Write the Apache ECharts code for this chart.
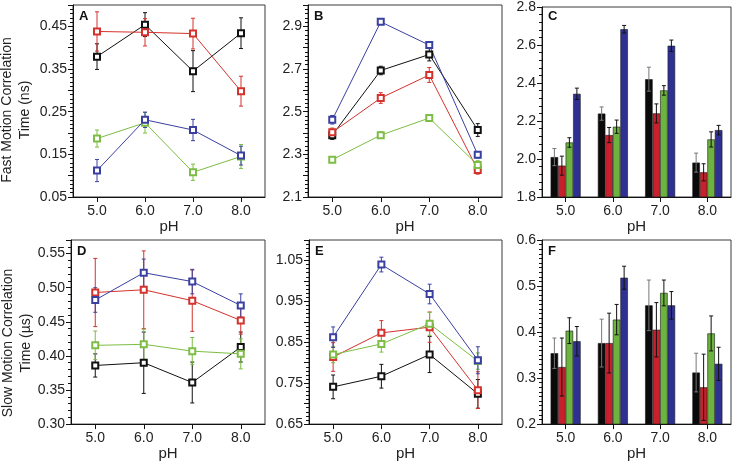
<!DOCTYPE html>
<html><head><meta charset="utf-8">
<script src="https://cdn.jsdelivr.net/npm/echarts@6/dist/echarts.min.js"></script>
<style>html,body{margin:0;padding:0;background:#fff}#c{width:738px;height:462px}</style>
</head><body><div id="c"></div>
<script>
const phLabels = ['5.0','6.0','7.0','8.0'];
const seriesNames = ['black','red','green','blue'];

// Panel A: fast motion correlation time (ns), line
const aBlack = [0.379, 0.454, 0.345, 0.434];
const aBlackErr = [0.03, 0.028, 0.048, 0.036];
const aRed = [0.438, 0.436, 0.433, 0.298];
const aRedErr = [0.046, 0.032, 0.036, 0.035];
const aGreen = [0.187, 0.224, 0.108, 0.145];
const aGreenErr = [0.02, 0.024, 0.019, 0.028];
const aBlue = [0.112, 0.231, 0.207, 0.147];
const aBlueErr = [0.026, 0.018, 0.025, 0.022];

// Panel B
const bBlack = [2.39, 2.693, 2.768, 2.414];
const bBlackErr = [0.02, 0.02, 0.03, 0.03];
const bRed = [2.403, 2.564, 2.672, 2.227];
const bRedErr = [0.02, 0.025, 0.035, 0.02];
const bGreen = [2.275, 2.39, 2.47, 2.25];
const bGreenErr = [0.01, 0.015, 0.01, 0.02];
const bBlue = [2.462, 2.921, 2.812, 2.298];
const bBlueErr = [0.02, 0.01, 0.015, 0.015];

// Panel C (bars)
const cBlack = [2.01, 2.239, 2.42, 1.981];
const cBlackErr = [0.045, 0.035, 0.063, 0.05];
const cRed = [1.965, 2.126, 2.24, 1.93];
const cRedErr = [0.05, 0.04, 0.05, 0.045];
const cGreen = [2.087, 2.17, 2.361, 2.103];
const cGreenErr = [0.025, 0.035, 0.025, 0.04];
const cBlue = [2.343, 2.683, 2.596, 2.152];
const cBlueErr = [0.03, 0.02, 0.03, 0.025];

// Panel D: slow motion correlation time (us), line
const dBlack = [0.386, 0.39, 0.361, 0.413];
const dBlackErr = [0.017, 0.045, 0.03, 0.022];
const dRed = [0.493, 0.497, 0.481, 0.452];
const dRedErr = [0.05, 0.057, 0.045, 0.02];
const dGreen = [0.4155, 0.417, 0.407, 0.403];
const dGreenErr = [0.021, 0.022, 0.02, 0.022];
const dBlue = [0.482, 0.522, 0.509, 0.474];
const dBlueErr = [0.018, 0.02, 0.018, 0.017];

// Panel E
const eBlack = [0.741, 0.767, 0.82, 0.724];
const eBlackErr = [0.029, 0.029, 0.044, 0.035];
const eRed = [0.814, 0.873, 0.887, 0.733];
const eRedErr = [0.035, 0.03, 0.037, 0.045];
const eGreen = [0.82, 0.846, 0.895, 0.804];
const eGreenErr = [0.02, 0.02, 0.028, 0.02];
const eBlue = [0.8625, 1.04, 0.968, 0.806];
const eBlueErr = [0.025, 0.018, 0.024, 0.033];

// Panel F (bars)
const fBlack = [0.354, 0.376, 0.458, 0.312];
const fBlackErr = [0.033, 0.052, 0.055, 0.042];
const fRed = [0.324, 0.376, 0.405, 0.28];
const fRedErr = [0.063, 0.065, 0.059, 0.072];
const fGreen = [0.403, 0.427, 0.485, 0.397];
const fGreenErr = [0.028, 0.033, 0.028, 0.038];
const fBlue = [0.38, 0.518, 0.458, 0.331];
const fBlueErr = [0.032, 0.025, 0.03, 0.036];

// tick label sets
const aTicks = ['0.05','0.15','0.25','0.35','0.45'];
const bTicks = ['2.1','2.3','2.5','2.7','2.9'];
const cTicks = ['1.8','2.0','2.2','2.4','2.6','2.8'];
const dTicks = ['0.30','0.35','0.40','0.45','0.50','0.55'];
const eTicks = ['0.65','0.75','0.85','0.95','1.05'];
const fTicks = ['0.2','0.3','0.4','0.5','0.6'];

const lineColors = ['#111111', '#d4322c', '#7dbd45', '#3a40a0'];
const barColors = ['#0a0a0a', '#c8202c', '#6db33f', '#2e3192'];
const FONT = 'Liberation Sans, Arial, Helvetica, sans-serif';

const panels = [
  {g:{left:73, top:5, width:192, height:192}, min:0.05, max:0.5, interval:0.05, minor:5, ticks:aTicks, dec:2, type:'line',
   vals:[aBlack,aRed,aGreen,aBlue], errs:[aBlackErr,aRedErr,aGreenErr,aBlueErr], letter:'A'},
  {g:{left:308, top:5, width:194, height:192}, min:2.1, max:3.0, interval:0.1, minor:5, ticks:bTicks, dec:1, type:'line',
   vals:[bBlack,bRed,bGreen,bBlue], errs:[bBlackErr,bRedErr,bGreenErr,bBlueErr], letter:'B'},
  {g:{left:542, top:5, width:189, height:192}, min:1.8, max:2.8, interval:0.2, minor:5, ticks:cTicks, dec:1, type:'bar',
   vals:[cBlack,cRed,cGreen,cBlue], errs:[cBlackErr,cRedErr,cGreenErr,cBlueErr], letter:'C'},
  {g:{left:71, top:240, width:194, height:186}, min:0.30, max:0.57, interval:0.05, minor:5, ticks:dTicks, dec:2, type:'line',
   vals:[dBlack,dRed,dGreen,dBlue], errs:[dBlackErr,dRedErr,dGreenErr,dBlueErr], letter:'D'},
  {g:{left:309, top:240, width:193, height:186}, min:0.65, max:1.10, interval:0.05, minor:5, ticks:eTicks, dec:2, type:'line',
   vals:[eBlack,eRed,eGreen,eBlue], errs:[eBlackErr,eRedErr,eGreenErr,eBlueErr], letter:'E'},
  {g:{left:542, top:240, width:189, height:186}, min:0.2, max:0.6, interval:0.1, minor:10, ticks:fTicks, dec:1, type:'bar',
   vals:[fBlack,fRed,fGreen,fBlue], errs:[fBlackErr,fRedErr,fGreenErr,fBlueErr], letter:'F'}
];

const BAR_W = 7.5;
const grid = [], xAxis = [], yAxis = [], series = [], graphic = [];

panels.forEach((p, i) => {
  grid.push(Object.assign({show:true, borderColor:'#3a3a3a', borderWidth:1, backgroundColor:'#fff', containLabel:false}, p.g));
  xAxis.push({
    type:'category', gridIndex:i, data:phLabels, boundaryGap:true,
    axisLine:{show:true, lineStyle:{color:'#111', width:1}},
    axisTick:{show:true, alignWithLabel:true, length:5, lineStyle:{color:'#111'}},
    axisLabel:{color:'#222', fontSize:14, fontFamily:FONT, margin:7},
    name:'pH', nameLocation:'middle', nameGap:13,
    nameTextStyle:{color:'#222', fontSize:15, fontFamily:FONT},
    splitLine:{show:false}
  });
  yAxis.push({
    type:'value', gridIndex:i, min:p.min, max:p.max, interval:p.interval,
    axisLine:{show:true, lineStyle:{color:'#111', width:1}},
    axisTick:{show:true, length:5, lineStyle:{color:'#111'}},
    minorTick:{show:true, splitNumber:p.minor, length:3, lineStyle:{color:'#111'}},
    axisLabel:{color:'#222', fontSize:14, fontFamily:FONT, margin:6, showMaxLabel:true,
      formatter:(v) => { const s = v.toFixed(p.dec); return p.ticks.indexOf(s) >= 0 ? s : ''; }},
    splitLine:{show:false}
  });
  p.vals.forEach((vals, k) => {
    if (p.type === 'line') {
      series.push({
        type:'line', xAxisIndex:i, yAxisIndex:i, data:vals, name:seriesNames[k],
        symbol:'emptyRect', symbolSize:6, showSymbol:true,
        lineStyle:{color:lineColors[k], width:1},
        itemStyle:{color:lineColors[k], borderColor:lineColors[k], borderWidth:1},
        z:3, animation:false
      });
    } else {
      series.push({
        type:'bar', xAxisIndex:i, yAxisIndex:i, data:vals, name:seriesNames[k],
        barWidth:BAR_W, barGap:'0%',
        itemStyle:{color:barColors[k], borderColor:'#1a1a1a', borderWidth:0.6},
        z:2, animation:false
      });
    }
    const errData = vals.map((v, j) => [j, v, p.errs[k][j]]);
    const isBar = p.type === 'bar';
    const col = isBar ? (k === 0 ? '#777' : '#111') : lineColors[k];
    const off = isBar ? (k - 1.5) * BAR_W : 0;
    series.push({
      type:'custom', xAxisIndex:i, yAxisIndex:i, data:errData, z:isBar?4:2, animation:false,
      encode:{x:0, y:1},
      renderItem:(params, api) => {
        const x = api.value(0), v = api.value(1), e = api.value(2);
        const t = api.coord([x, v + e]);
        const b = api.coord([x, v - e]);
        const cx = t[0] + off;
        const cap = 2;
        const st = {stroke:col, lineWidth:1};
        return {type:'group', children:[
          {type:'line', shape:{x1:cx, y1:t[1], x2:cx, y2:b[1]}, style:st},
          {type:'line', shape:{x1:cx-cap, y1:t[1], x2:cx+cap, y2:t[1]}, style:st},
          {type:'line', shape:{x1:cx-cap, y1:b[1], x2:cx+cap, y2:b[1]}, style:st}
        ]};
      }
    });
  });
  graphic.push({type:'text', left:p.g.left + 6, top:p.g.top + 5, z:10,
    style:{text:p.letter, font:'bold 13px ' + FONT, fill:'#111'}});
});

graphic.push({type:'text', x:16, y:110, rotation:Math.PI/2, z:10,
  style:{text:'Fast Motion Correlation\nTime (ns)', font:'14px ' + FONT, fill:'#222',
         align:'center', verticalAlign:'middle', lineHeight:18}});
graphic.push({type:'text', x:17, y:343, rotation:Math.PI/2, z:10,
  style:{text:'Slow Motion Correlation\nTime (\u00b5s)', font:'14px ' + FONT, fill:'#222',
         align:'center', verticalAlign:'middle', lineHeight:18}});

const chart = echarts.init(document.getElementById('c'), null, {renderer:'canvas'});
chart.setOption({animation:false, backgroundColor:'#fff', grid, xAxis, yAxis, series, graphic});
</script></body></html>
